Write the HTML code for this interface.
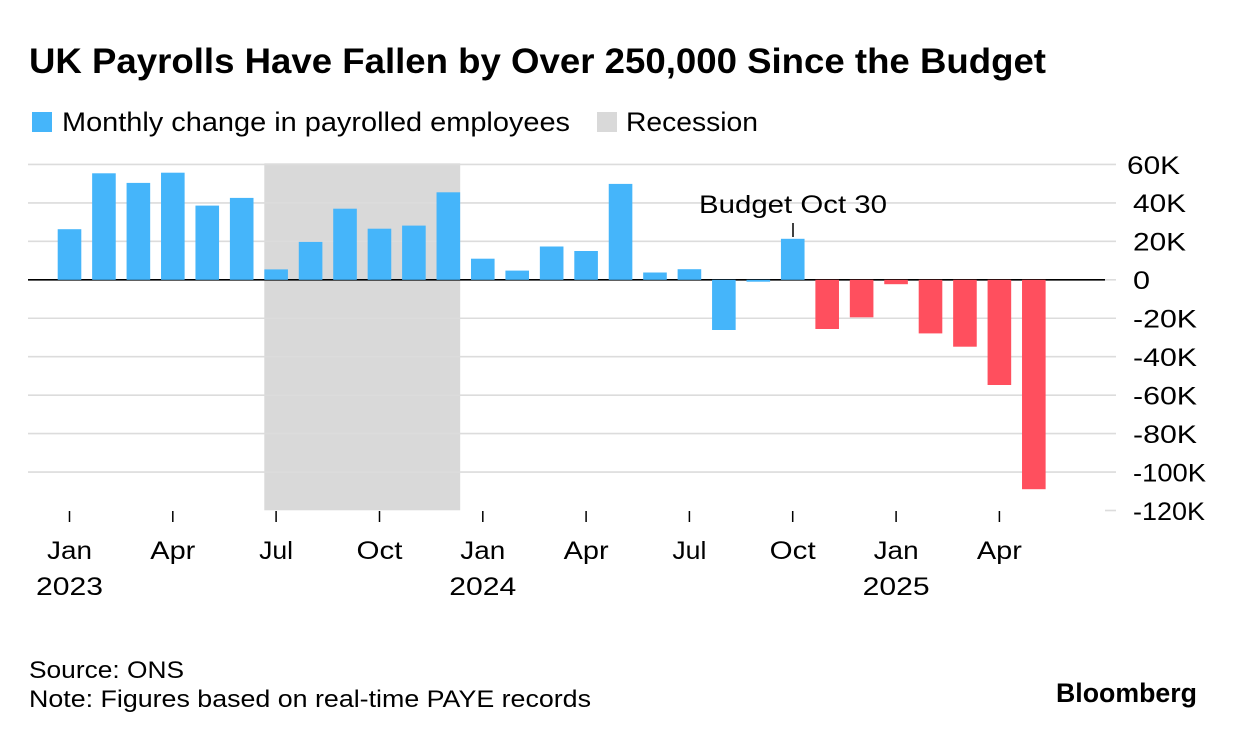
<!DOCTYPE html>
<html>
<head>
<meta charset="utf-8">
<style>
  html, body { margin: 0; padding: 0; background: #ffffff; }
  svg { display: block; }
  text { font-family: "Liberation Sans", "DejaVu Sans", sans-serif; fill: #000; }
</style>
</head>
<body>
<svg width="1236" height="738" viewBox="0 0 1236 738" xmlns="http://www.w3.org/2000/svg">
  <rect x="0" y="0" width="1236" height="738" fill="#ffffff"/>

  <!-- Title -->
  <text x="29" y="73" font-size="35" font-weight="bold" textLength="1017" lengthAdjust="spacingAndGlyphs">UK Payrolls Have Fallen by Over 250,000 Since the Budget</text>

  <!-- Legend -->
  <rect x="32" y="112" width="20" height="20" fill="#45b5fa"/>
  <text x="62" y="131" font-size="27" textLength="508" lengthAdjust="spacingAndGlyphs">Monthly change in payrolled employees</text>
  <rect x="597" y="112" width="20" height="20" fill="#d9d9d9"/>
  <text x="626" y="131" font-size="27" textLength="132" lengthAdjust="spacingAndGlyphs">Recession</text>

  <!-- Recession shading -->
  <rect x="264.3" y="163.3" width="195.9" height="347" fill="#d9d9d9"/>

  <!-- Gridlines -->
  <g stroke="#dcdcdc" stroke-width="1.6">
    <line x1="28" y1="164.45" x2="1116" y2="164.45"/>
    <line x1="28" y1="202.9" x2="1116" y2="202.9"/>
    <line x1="28" y1="241.35" x2="1116" y2="241.35"/>
    <line x1="1105" y1="279.8" x2="1116" y2="279.8"/>
    <line x1="28" y1="318.25" x2="1116" y2="318.25"/>
    <line x1="28" y1="356.7" x2="1116" y2="356.7"/>
    <line x1="28" y1="395.15" x2="1116" y2="395.15"/>
    <line x1="28" y1="433.6" x2="1116" y2="433.6"/>
    <line x1="28" y1="472.05" x2="1116" y2="472.05"/>
    <line x1="1105" y1="510.5" x2="1116" y2="510.5"/>
  </g>
  <!-- Zero line -->
  <line x1="28" y1="279.8" x2="1105" y2="279.8" stroke="#000" stroke-width="1.6"/>

  <!-- Bars -->
  <g fill="#45b5fa">
    <rect x="57.7" y="229.2" width="23.6" height="50.6"/>
    <rect x="92.14" y="173.3" width="23.6" height="106.5"/>
    <rect x="126.58" y="182.9" width="23.6" height="96.9"/>
    <rect x="161.02" y="172.7" width="23.6" height="107.1"/>
    <rect x="195.46" y="205.6" width="23.6" height="74.2"/>
    <rect x="229.9" y="197.9" width="23.6" height="81.9"/>
    <rect x="264.34" y="269.4" width="23.6" height="10.4"/>
    <rect x="298.78" y="241.9" width="23.6" height="37.9"/>
    <rect x="333.22" y="208.7" width="23.6" height="71.1"/>
    <rect x="367.66" y="228.7" width="23.6" height="51.1"/>
    <rect x="402.1" y="225.6" width="23.6" height="54.2"/>
    <rect x="436.54" y="192.3" width="23.6" height="87.5"/>
    <rect x="470.98" y="258.7" width="23.6" height="21.1"/>
    <rect x="505.42" y="270.6" width="23.6" height="9.2"/>
    <rect x="539.86" y="246.5" width="23.6" height="33.3"/>
    <rect x="574.3" y="251" width="23.6" height="28.8"/>
    <rect x="608.74" y="183.9" width="23.6" height="95.9"/>
    <rect x="643.18" y="272.5" width="23.6" height="7.3"/>
    <rect x="677.62" y="269.2" width="23.6" height="10.6"/>
    <rect x="712.06" y="279.8" width="23.6" height="50.2"/>
    <rect x="746.5" y="279.8" width="23.6" height="1.9"/>
    <rect x="780.94" y="238.8" width="23.6" height="41"/>
  </g>
  <g fill="#ff4f5e">
    <rect x="815.38" y="279.8" width="23.6" height="49.2"/>
    <rect x="849.82" y="279.8" width="23.6" height="37.5"/>
    <rect x="884.26" y="279.8" width="23.6" height="4.4"/>
    <rect x="918.7" y="279.8" width="23.6" height="53.6"/>
    <rect x="953.14" y="279.8" width="23.6" height="66.9"/>
    <rect x="987.58" y="279.8" width="23.6" height="105.2"/>
    <rect x="1022.02" y="279.8" width="23.6" height="209.4"/>
  </g>

  <!-- Budget annotation -->
  <text x="699" y="213" font-size="25" textLength="188" lengthAdjust="spacingAndGlyphs">Budget Oct 30</text>
  <line x1="793" y1="223" x2="793" y2="237" stroke="#000" stroke-width="1.5"/>

  <!-- Y-axis labels -->
  <g font-size="25">
    <text x="1127" y="174" textLength="53" lengthAdjust="spacingAndGlyphs">60K</text>
    <text x="1133" y="212" textLength="53" lengthAdjust="spacingAndGlyphs">40K</text>
    <text x="1133" y="250.5" textLength="53" lengthAdjust="spacingAndGlyphs">20K</text>
    <text x="1133" y="289" textLength="17" lengthAdjust="spacingAndGlyphs">0</text>
    <text x="1133" y="327.5" textLength="64" lengthAdjust="spacingAndGlyphs">-20K</text>
    <text x="1133" y="366" textLength="64" lengthAdjust="spacingAndGlyphs">-40K</text>
    <text x="1133" y="404.5" textLength="64" lengthAdjust="spacingAndGlyphs">-60K</text>
    <text x="1133" y="443" textLength="64" lengthAdjust="spacingAndGlyphs">-80K</text>
    <text x="1133" y="481.5" textLength="73" lengthAdjust="spacingAndGlyphs">-100K</text>
    <text x="1133" y="520" textLength="72" lengthAdjust="spacingAndGlyphs">-120K</text>
  </g>

  <!-- X-axis ticks -->
  <g stroke="#000" stroke-width="1.5">
    <line x1="69.5" y1="511" x2="69.5" y2="522"/>
    <line x1="172.8" y1="511" x2="172.8" y2="522"/>
    <line x1="276.1" y1="511" x2="276.1" y2="522"/>
    <line x1="379.5" y1="511" x2="379.5" y2="522"/>
    <line x1="482.8" y1="511" x2="482.8" y2="522"/>
    <line x1="586.1" y1="511" x2="586.1" y2="522"/>
    <line x1="689.4" y1="511" x2="689.4" y2="522"/>
    <line x1="792.7" y1="511" x2="792.7" y2="522"/>
    <line x1="896.1" y1="511" x2="896.1" y2="522"/>
    <line x1="999.4" y1="511" x2="999.4" y2="522"/>
  </g>

  <!-- X-axis labels -->
  <g font-size="25" text-anchor="middle">
    <text x="69.5" y="559" textLength="45" lengthAdjust="spacingAndGlyphs">Jan</text>
    <text x="172.8" y="559" textLength="45" lengthAdjust="spacingAndGlyphs">Apr</text>
    <text x="276.1" y="559" textLength="34" lengthAdjust="spacingAndGlyphs">Jul</text>
    <text x="379.5" y="559" textLength="46" lengthAdjust="spacingAndGlyphs">Oct</text>
    <text x="482.8" y="559" textLength="45" lengthAdjust="spacingAndGlyphs">Jan</text>
    <text x="586.1" y="559" textLength="45" lengthAdjust="spacingAndGlyphs">Apr</text>
    <text x="689.4" y="559" textLength="34" lengthAdjust="spacingAndGlyphs">Jul</text>
    <text x="792.7" y="559" textLength="46" lengthAdjust="spacingAndGlyphs">Oct</text>
    <text x="896.1" y="559" textLength="45" lengthAdjust="spacingAndGlyphs">Jan</text>
    <text x="999.4" y="559" textLength="45" lengthAdjust="spacingAndGlyphs">Apr</text>
    <text x="69.5" y="595" textLength="67" lengthAdjust="spacingAndGlyphs">2023</text>
    <text x="482.8" y="595" textLength="67" lengthAdjust="spacingAndGlyphs">2024</text>
    <text x="896.1" y="595" textLength="67" lengthAdjust="spacingAndGlyphs">2025</text>
  </g>

  <!-- Footer -->
  <text x="29" y="678" font-size="24" textLength="155" lengthAdjust="spacingAndGlyphs">Source: ONS</text>
  <text x="29" y="707" font-size="24" textLength="562" lengthAdjust="spacingAndGlyphs">Note: Figures based on real-time PAYE records</text>
  <text x="1056" y="702" font-size="27" font-weight="bold" textLength="141" lengthAdjust="spacingAndGlyphs">Bloomberg</text>
</svg>
</body>
</html>
